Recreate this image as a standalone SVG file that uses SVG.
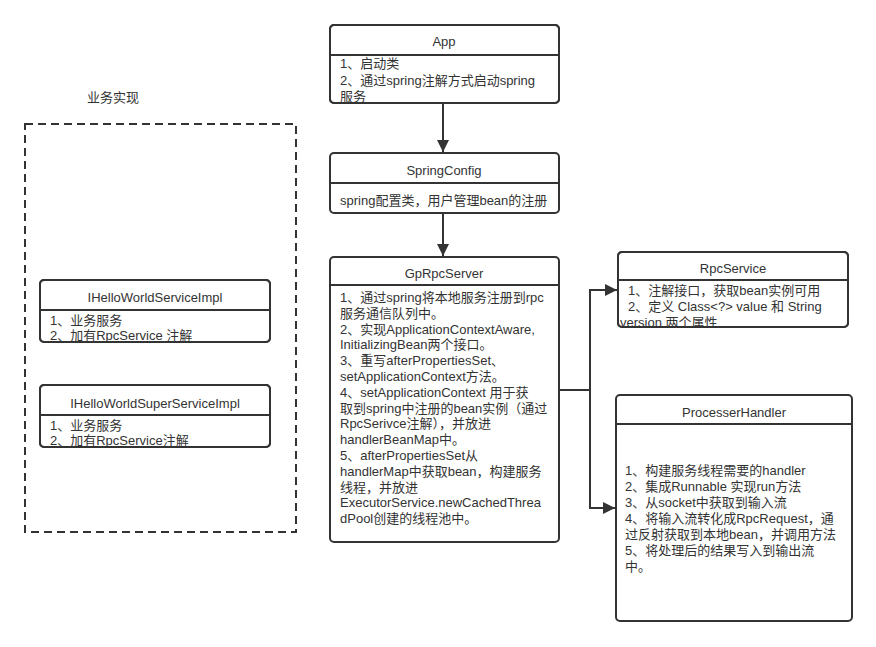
<svg xmlns="http://www.w3.org/2000/svg" width="876" height="647" viewBox="0 0 876 647">
<style>
.box{fill:#fff;stroke:#333;stroke-width:2}
.div{stroke:#333;stroke-width:2}
.t{font-family:"Liberation Sans","Noto Sans CJK SC",sans-serif;font-size:13px;fill:#333}
.c{text-anchor:middle}
.con{fill:none;stroke:#333;stroke-width:2}
</style>
<defs>
<marker id="ah" viewBox="0 0 10 10" refX="10" refY="5" markerWidth="6" markerHeight="6" markerUnits="strokeWidth" orient="auto">
<path d="M0,0 L10,5 L0,10 z" fill="#333"/>
</marker>
<clipPath id="cApp"><rect x="330" y="25" width="229" height="78"/></clipPath>
<clipPath id="cRpc"><rect x="618" y="252" width="230" height="75"/></clipPath>
<clipPath id="cH1"><rect x="40" y="280" width="230" height="62"/></clipPath>
<clipPath id="cH2"><rect x="40" y="385" width="230" height="62"/></clipPath>
</defs>
<rect width="876" height="647" fill="#fff"/>

<g id="biz">
<text class="t c" x="113" y="102">业务实现</text>
<rect x="25" y="124" width="271" height="408" fill="none" stroke="#333" stroke-width="2" stroke-dasharray="8,5"/>
</g>

<g id="IHelloWorldServiceImpl">
<rect class="box" x="40" y="280" width="230" height="62" rx="4"/>
<line class="div" x1="40" y1="310" x2="270" y2="310"/>
<text class="t c" x="155" y="302">IHelloWorldServiceImpl</text>
<g clip-path="url(#cH1)">
<text class="t" x="50" y="325">1、业务服务</text>
<text class="t" x="50" y="340">2、加有RpcService 注解</text>
</g>
<rect x="40" y="280" width="230" height="62" rx="4" fill="none" stroke="#333" stroke-width="2"/>
</g>

<g id="IHelloWorldSuperServiceImpl">
<rect class="box" x="40" y="385" width="230" height="62" rx="4"/>
<line class="div" x1="40" y1="415" x2="270" y2="415"/>
<text class="t c" x="155" y="408">IHelloWorldSuperServiceImpl</text>
<g clip-path="url(#cH2)">
<text class="t" x="50" y="430">1、业务服务</text>
<text class="t" x="50" y="445">2、加有RpcService注解</text>
</g>
<rect x="40" y="385" width="230" height="62" rx="4" fill="none" stroke="#333" stroke-width="2"/>
</g>

<g id="App">
<rect class="box" x="330" y="25" width="229" height="78" rx="4"/>
<line class="div" x1="330" y1="55" x2="559" y2="55"/>
<text class="t c" x="444" y="46">App</text>
<g clip-path="url(#cApp)">
<text class="t" x="340" y="68">1、启动类</text>
<text class="t" x="340" y="85">2、通过spring注解方式启动spring</text>
<text class="t" x="340" y="101">服务</text>
</g>
<rect x="330" y="25" width="229" height="78" rx="4" fill="none" stroke="#333" stroke-width="2"/>
</g>

<g id="SpringConfig">
<rect class="box" x="330" y="153" width="229" height="60" rx="4"/>
<line class="div" x1="330" y1="183" x2="559" y2="183"/>
<text class="t c" x="444" y="175">SpringConfig</text>
<text class="t" x="340" y="205">spring配置类，用户管理bean的注册</text>
</g>

<g id="GpRpcServer">
<rect class="box" x="330" y="257" width="229" height="285" rx="4"/>
<line class="div" x1="330" y1="285" x2="559" y2="285"/>
<text class="t c" x="444" y="278">GpRpcServer</text>
<text class="t" x="340" y="302">1、通过spring将本地服务注册到rpc</text>
<text class="t" x="340" y="317.8">服务通信队列中。</text>
<text class="t" x="340" y="333.6">2、实现ApplicationContextAware,</text>
<text class="t" x="340" y="349.4">InitializingBean两个接口。</text>
<text class="t" x="340" y="365.2">3、重写afterPropertiesSet、</text>
<text class="t" x="340" y="381">setApplicationContext方法。</text>
<text class="t" x="340" y="396.8">4、setApplicationContext 用于获</text>
<text class="t" x="340" y="412.6">取到spring中注册的bean实例（通过</text>
<text class="t" x="340" y="428.4">RpcSerivce注解），并放进</text>
<text class="t" x="340" y="444.2">handlerBeanMap中。</text>
<text class="t" x="340" y="460">5、afterPropertiesSet从</text>
<text class="t" x="340" y="475.8">handlerMap中获取bean，构建服务</text>
<text class="t" x="340" y="491.6">线程，并放进</text>
<text class="t" x="340" y="507.4">ExecutorService.newCachedThrea</text>
<text class="t" x="340" y="523.2">dPool创建的线程池中。</text>
</g>

<g id="RpcService">
<rect class="box" x="618" y="252" width="230" height="75" rx="4"/>
<line class="div" x1="618" y1="280" x2="848" y2="280"/>
<text class="t c" x="733" y="273">RpcService</text>
<g clip-path="url(#cRpc)">
<text class="t" x="628" y="295">1、注解接口，获取bean实例可用</text>
<text class="t" x="628" y="311">2、定义 Class&lt;?&gt; value 和 String</text>
<text class="t" x="620" y="327">version 两个属性</text>
</g>
<rect x="618" y="252" width="230" height="75" rx="4" fill="none" stroke="#333" stroke-width="2"/>
</g>

<g id="ProcesserHandler">
<rect class="box" x="616" y="395" width="236" height="226" rx="4"/>
<line class="div" x1="616" y1="424" x2="852" y2="424"/>
<text class="t c" x="734" y="417">ProcesserHandler</text>
<text class="t" x="625" y="475">1、构建服务线程需要的handler</text>
<text class="t" x="625" y="491">2、集成Runnable 实现run方法</text>
<text class="t" x="625" y="507">3、从socket中获取到输入流</text>
<text class="t" x="625" y="523">4、将输入流转化成RpcRequest，通</text>
<text class="t" x="625" y="539">过反射获取到本地bean，并调用方法</text>
<text class="t" x="625" y="555">5、将处理后的结果写入到输出流</text>
<text class="t" x="625" y="571">中。</text>
</g>

<g id="connectors">
<line class="con" x1="443" y1="103" x2="443" y2="152" marker-end="url(#ah)"/>
<line class="con" x1="443" y1="213" x2="443" y2="256" marker-end="url(#ah)"/>
<polyline class="con" points="559,390 590,390 590,290 617,290" marker-end="url(#ah)"/>
<polyline class="con" points="590,390 590,508 615,508" marker-end="url(#ah)"/>
</g>
</svg>
